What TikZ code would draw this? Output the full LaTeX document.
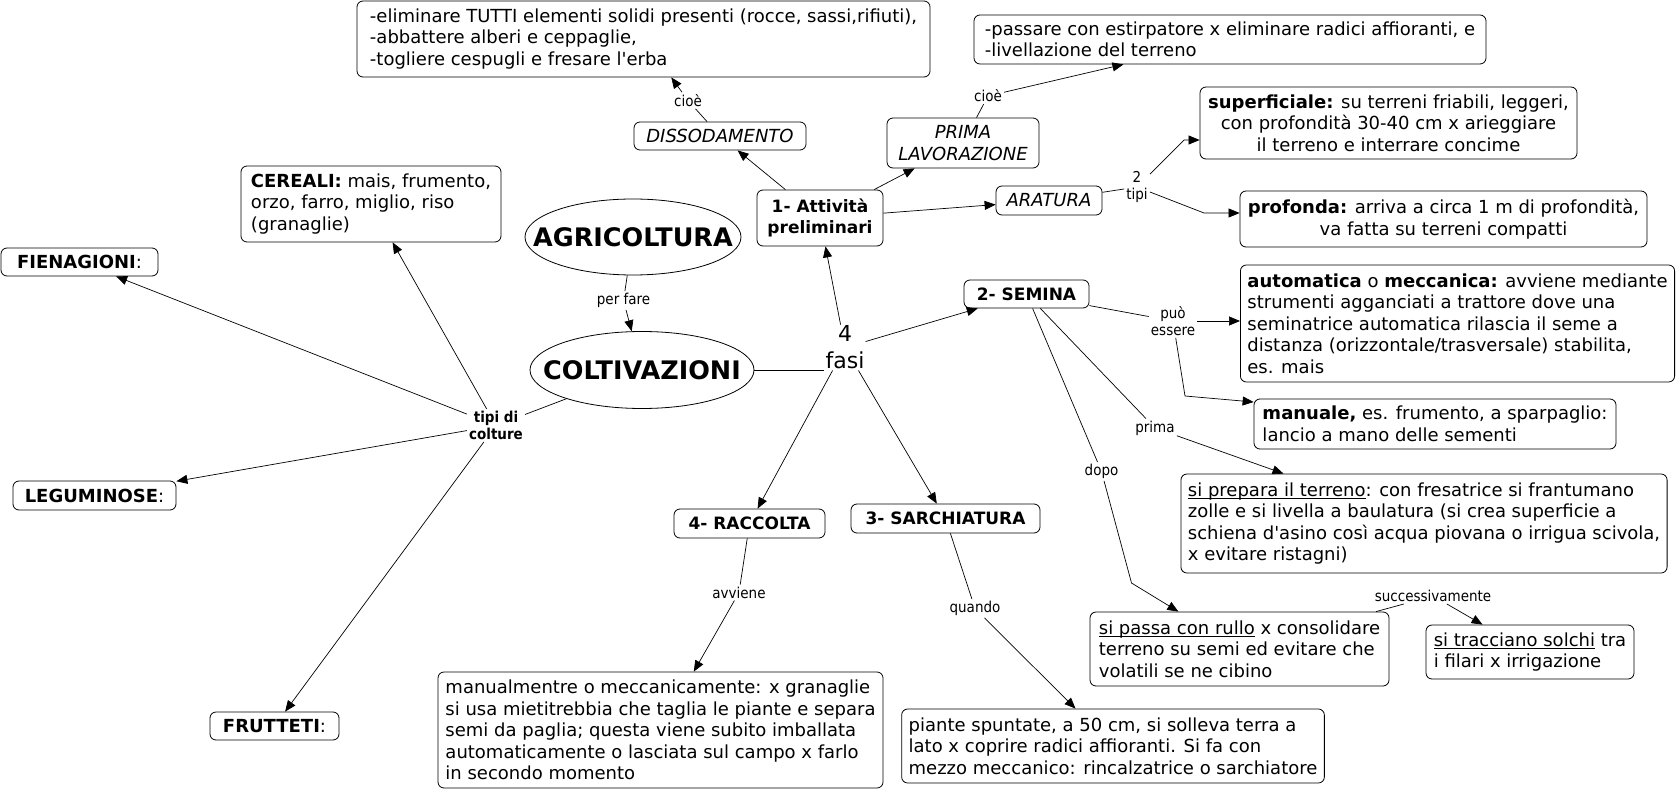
\documentclass[tikz,border=0pt]{standalone}
\usepackage{fontspec}
\setmainfont{DejaVu Sans}[Ligatures=TeXOff]
\newfontfamily\condfont{DejaVu Sans Condensed}[Ligatures=TeXOff]
\usetikzlibrary{arrows.meta,shapes.geometric}
\newcommand\bodyf{\fontsize{18}{21.5}\selectfont}
\newcommand\titf{\fontsize{17}{21}\selectfont\bfseries}
\newcommand\bigf{\fontsize{25.5}{30}\selectfont\bfseries}
\newcommand\labf{\condfont\fontsize{15}{17}\selectfont}
\newcommand\fasif{\fontsize{22}{27}\selectfont}
\newcommand\ulx[1]{\setbox0\hbox{#1}\rlap{\rule[-3pt]{\wd0}{0.8pt}}\box0\relax}
\begin{document}
\begin{tikzpicture}[x=1pt,y=-1pt,
  box/.style={draw, rounded corners=6pt, line width=0.8pt, inner xsep=7pt, inner ysep=3pt, font=\bodyf, align=left},
  cbox/.style={box, align=center},
  tbox/.style={box, font=\titf, align=center},
  ibox/.style={box, font=\bodyf\itshape, align=center},
  ell/.style={draw, ellipse, line width=0.8pt, font=\bigf, inner sep=0pt},
  lab/.style={font=\labf, inner sep=2pt, align=center},
  ln/.style={line width=0.7pt},
  arr/.style={ln, -{Triangle[length=11pt,width=9pt]}}
]
\useasboundingbox (0,0) rectangle (1677,791);
\fill[white] (0,0) rectangle (1677,791);

% boxes
\node[box, minimum width=573pt, minimum height=76pt] (elim) at (643.5,39) {-eliminare TUTTI elementi solidi presenti (rocce, sassi,rifiuti),\\-abbattere alberi e ceppaglie,\\-togliere cespugli e fresare l'erba};
\node[box, minimum width=512pt, minimum height=49pt] (pass) at (1230,39.5) {-passare con estirpatore x eliminare radici affioranti, e\\-livellazione del terreno};
\node[ibox, minimum width=172pt, minimum height=28pt] (disso) at (720,136) {DISSODAMENTO};
\node[ibox, minimum width=152pt, minimum height=50pt] (prima) at (963,143) {PRIMA\\LAVORAZIONE};
\node[cbox, minimum width=377pt, minimum height=72pt] (superf) at (1388.5,123) {\textbf{superficiale:} su terreni friabili, leggeri,\\con profondità 30-40 cm x arieggiare\\il terreno e interrare concime};
\node[tbox, minimum width=126pt, minimum height=56pt] (attiv) at (820,218) {1- Attività\\preliminari};
\node[ibox, minimum width=106pt, minimum height=29pt] (arat) at (1049,200.5) {ARATURA};
\node[cbox, minimum width=407pt, minimum height=56pt] (prof) at (1443.5,219) {\textbf{profonda:} arriva a circa 1 m di profondità,\\va fatta su terreni compatti};
\node[box, minimum width=260pt, minimum height=76pt] (cereali) at (371,204) {\textbf{CEREALI:} mais, frumento,\\orzo, farro, miglio, riso\\(granaglie)};
\node[ell, minimum width=216pt, minimum height=76pt] (agri) at (633,237) {\makebox[0pt]{AGRICOLTURA}};
\node[box, minimum width=157pt, minimum height=28pt] (fien) at (79.5,262) {\textbf{FIENAGIONI}:};
\node[ell, minimum width=224pt, minimum height=77pt] (colt) at (642,370) {\makebox[0pt]{COLTIVAZIONI}};
\node[font=\fasif, align=center, inner sep=1pt] (fasi) at (845,347.6) {4\\fasi};
\node[tbox, minimum width=125pt, minimum height=28pt] (semina) at (1026.5,294) {2- SEMINA};
\node[box, minimum width=433pt, minimum height=117pt] (autom) at (1457.5,323.5) {\textbf{automatica} o \textbf{meccanica:} avviene mediante\\strumenti agganciati a trattore dove una\\seminatrice automatica rilascia il seme a\\distanza (orizzontale/trasversale) stabilita,\\es. mais};
\node[box, minimum width=362pt, minimum height=50pt] (manuale) at (1435,424) {\textbf{manuale,} es. frumento, a sparpaglio:\\lancio a mano delle sementi};
\node[box, minimum width=163pt, minimum height=29pt] (legum) at (94.5,495.5) {\textbf{LEGUMINOSE}:};
\node[box, minimum width=486pt, minimum height=99pt] (prepara) at (1424,523.5) {\ulx{si prepara il terreno}: con fresatrice si frantumano\\zolle e si livella a baulatura (si crea superficie a\\schiena d'asino così acqua piovana o irrigua scivola,\\x evitare ristagni)};
\node[tbox, minimum width=151pt, minimum height=29pt] (racc) at (749.5,523.5) {4- RACCOLTA};
\node[tbox, minimum width=189pt, minimum height=29pt] (sarch) at (945.5,518.5) {3- SARCHIATURA};
\node[box, minimum width=299pt, minimum height=74pt] (passa) at (1239.5,649) {\ulx{si passa con rullo} x consolidare\\terreno su semi ed evitare che\\volatili se ne cibino};
\node[box, minimum width=208pt, minimum height=54pt] (tracc) at (1530,652) {\ulx{si tracciano solchi} tra\\i filari x irrigazione};
\node[box, minimum width=445pt, minimum height=116pt] (manualm) at (660.5,730) {manualmentre o meccanicamente: x granaglie\\si usa mietitrebbia che taglia le piante e separa\\semi da paglia; questa viene subito imballata\\automaticamente o lasciata sul campo x farlo\\in secondo momento};
\node[box, minimum width=129pt, minimum height=28pt] (frutt) at (274.5,726) {\textbf{FRUTTETI}:};
\node[box, minimum width=422pt, minimum height=74pt] (piante) at (1113,746) {piante spuntate, a 50 cm, si solleva terra a\\lato x coprire radici affioranti. Si fa con\\mezzo meccanico: rincalzatrice o sarchiatore};

% labels
\node[lab] (cioeA) at (688,100.5) {cioè};
\node[lab] (cioeB) at (988,96) {cioè};
\node[lab] (duetipi) at (1137,187) {2\\tipi};
\node[lab] (perfare) at (623.5,300.5) {per fare};
\node[lab] (puo) at (1173,321) {può\\essere};
\node[lab] (primal) at (1155,428) {prima};
\node[lab] (dopo) at (1101.5,471.5) {dopo};
\node[lab, font=\labf\bfseries] (tipi) at (496,425.5) {tipi di\\colture};
\node[lab] (succ) at (1433,596) {successivamente};
\node[lab] (avv) at (739,592.5) {avviene};
\node[lab] (quando) at (975,608.5) {quando};

% bend points
\coordinate (bs) at (1184,140);
\coordinate (bp) at (1204,213);
\coordinate (bm) at (1185,396);
\coordinate (mt) at (1253,402);
\coordinate (bd) at (1131.5,583);

% connectors
\draw[ln] (colt.east) -- (fasi.west |- colt.east);
\draw[arr] (fasi) -- (attiv);
\draw[arr] (fasi) -- (semina);
\draw[arr] (fasi) -- (sarch);
\draw[arr] (fasi) -- (racc);
\draw[ln] (agri) -- (perfare);
\draw[arr] (perfare) -- (colt);
\draw[ln] (colt) -- (tipi);
\draw[arr] (tipi) -- (fien);
\draw[arr] (tipi) -- (cereali);
\draw[arr] (tipi) -- (legum);
\draw[arr] (tipi) -- (frutt);
\draw[arr] (attiv) -- (disso);
\draw[ln] (disso) -- (cioeA);
\draw[arr] (cioeA) -- (elim);
\draw[arr] (attiv) -- (prima);
\draw[ln] (prima) -- (cioeB);
\draw[arr] (cioeB) -- (pass);
\draw[arr] (attiv) -- (arat);
\draw[ln] (arat) -- (duetipi);
\draw[arr] (duetipi) -- (bs) -- (superf.west |- bs);
\draw[arr] (duetipi) -- (bp) -- (prof.west |- bp);
\draw[ln] (semina) -- (puo);
\draw[arr] (puo) -- (autom.west |- puo);
\draw[arr] (puo) -- (bm) -- (manuale.west |- mt);
\draw[ln] (semina) -- (primal);
\draw[arr] (primal) -- (prepara);
\draw[ln] (semina) -- (dopo);
\draw[arr] (dopo) -- (bd) -- (passa);
\draw[ln] (passa) -- (succ);
\draw[arr] (succ) -- (tracc);
\draw[ln] (racc) -- (avv);
\draw[arr] (avv) -- (manualm);
\draw[ln] (sarch) -- (quando);
\draw[arr] (quando) -- (piante);
\end{tikzpicture}
\end{document}
